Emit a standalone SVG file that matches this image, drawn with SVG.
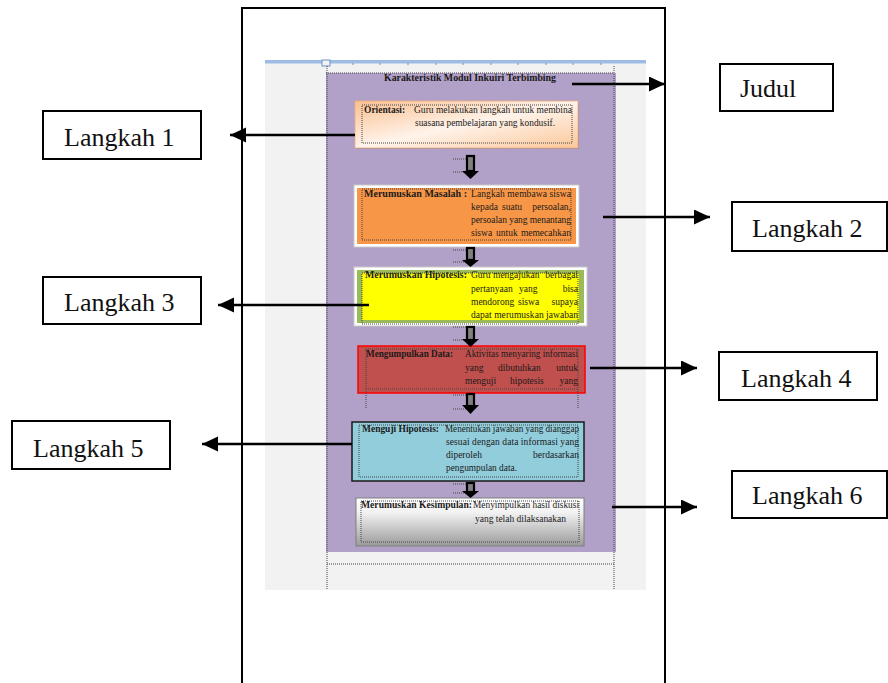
<svg xmlns="http://www.w3.org/2000/svg" width="888" height="683" viewBox="0 0 888 683">
<style>
.lbl{fill:#fff;stroke:#000;stroke-width:2}
.lt{font-family:"Liberation Serif","Times New Roman",serif;font-size:26px;fill:#111}
.t{font-family:"Liberation Serif","Times New Roman",serif;font-size:9.5px;fill:#1a1a1a}
.b{font-weight:bold}
.e{text-anchor:end}
.dot{fill:none;stroke:#444;stroke-width:1;stroke-dasharray:1 1}
.con{stroke:#000;stroke-width:2.5;fill:none;marker-end:url(#ah)}
.frame{stroke:#000;stroke-width:2;fill:none}
.shaft{fill:#808080;stroke:#000;stroke-width:2.2}
.head{fill:#000}
.tick{stroke:#888;stroke-width:1}
</style>
<defs>
<marker id="ah" markerUnits="userSpaceOnUse" markerWidth="17" markerHeight="16" refX="16" refY="7.5" orient="auto">
<path d="M0,0 L16,7.5 L0,15 z" fill="#000"/>
</marker>
<linearGradient id="g1" x1="0" y1="0" x2="1" y2="1">
<stop offset="0" stop-color="#fac090"/>
<stop offset="0.5" stop-color="#fff3ea"/>
<stop offset="1" stop-color="#fbc799"/>
</linearGradient>
<linearGradient id="g6" x1="0" y1="0" x2="0" y2="1">
<stop offset="0" stop-color="#ffffff"/>
<stop offset="0.3" stop-color="#f2f2f2"/>
<stop offset="1" stop-color="#9a9a9a"/>
</linearGradient>
</defs>
<rect width="888" height="683" fill="#fff"/>
<g id="frame">
<path class="frame" d="M242,683 V8 H665 V683"/>
</g>
<g id="screen">
<rect x="265" y="60" width="381" height="530" fill="#f2f2f2"/>
<rect x="265" y="60" width="381" height="3.5" fill="#9dbbe3"/>
<rect x="322" y="60" width="8" height="6" fill="#f2f2f2" stroke="#6d8fc4" stroke-width="1"/>
<g class="tick">
<line x1="353" y1="63" x2="353" y2="65"/><line x1="380" y1="63" x2="380" y2="65"/><line x1="408" y1="63" x2="408" y2="65"/><line x1="436" y1="63" x2="436" y2="65"/><line x1="463" y1="63" x2="463" y2="65"/><line x1="491" y1="63" x2="491" y2="65"/><line x1="518" y1="63" x2="518" y2="65"/><line x1="546" y1="63" x2="546" y2="65"/><line x1="573" y1="63" x2="573" y2="65"/><line x1="601" y1="63" x2="601" y2="65"/>
</g>
<rect x="326" y="73" width="290" height="479" fill="#b1a0c7"/>
<path class="dot" d="M326,73 H614 M327,66 V590 M614,66 V590 M327,564 H614"/>
<text class="t b" x="384" y="81" textLength="172" lengthAdjust="spacingAndGlyphs">Karakteristik Modul Inkuiri Terbimbing</text>
</g>
<g id="step1">
<rect x="356" y="102" width="223" height="47" fill="#000" opacity="0.15"/>
<rect x="355" y="101" width="223" height="47" fill="url(#g1)" stroke="#f0b080" stroke-width="0.8"/>
<rect class="dot" x="362" y="105" width="210" height="38"/>
<text class="t b" x="364" y="113">Orientasi:</text>
<text class="t" x="414" y="113" textLength="158" lengthAdjust="spacingAndGlyphs">Guru melakukan langkah untuk membina</text>
<text class="t" x="415" y="126" textLength="140" lengthAdjust="spacingAndGlyphs">suasana pembelajaran yang kondusif.</text>
</g>
<g id="step2">
<rect x="354" y="185" width="225" height="62" fill="#fff" stroke="#c8c8c8" stroke-width="1"/>
<rect x="357" y="188" width="219" height="56" fill="#f79646"/>
<rect class="dot" x="362" y="189" width="209" height="51"/>
<text class="t b" x="364" y="197" textLength="103" lengthAdjust="spacingAndGlyphs">Merumuskan Masalah :</text>
<text class="t" x="471" y="197" textLength="100" lengthAdjust="spacing">Langkah membawa siswa</text>
<text class="t" y="210"><tspan x="471">kepada</tspan><tspan x="502">suatu</tspan><tspan class="e" x="571">persoalan,</tspan></text>
<text class="t" x="471" y="223" textLength="100" lengthAdjust="spacing">persoalan yang menantang</text>
<text class="t" y="236"><tspan x="471">siswa</tspan><tspan x="496">untuk</tspan><tspan class="e" x="571">memecahkan</tspan></text>
</g>
<g id="step3">
<rect x="354" y="267" width="233" height="59" fill="#fff" stroke="#c8c8c8" stroke-width="1"/>
<rect x="357" y="270" width="227" height="53" fill="#9bbb59"/>
<rect x="362" y="273" width="217" height="47" fill="#ffff00"/>
<rect class="dot" x="362" y="273" width="216" height="51"/>
<text class="t b" x="365" y="278" textLength="102" lengthAdjust="spacingAndGlyphs">Merumuskan Hipotesis:</text>
<text class="t" y="278"><tspan x="471">Guru</tspan><tspan x="493">mengajukan</tspan><tspan class="e" x="578">berbagai</tspan></text>
<text class="t" y="292"><tspan x="471">pertanyaan</tspan><tspan x="519">yang</tspan><tspan class="e" x="578">bisa</tspan></text>
<text class="t" y="305"><tspan x="471">mendorong</tspan><tspan x="518">siswa</tspan><tspan class="e" x="578">supaya</tspan></text>
<text class="t" x="471" y="318" textLength="107" lengthAdjust="spacing">dapat merumuskan jawaban</text>
</g>
<g id="step4">
<rect x="358" y="346" width="227" height="47" fill="#c0504d" stroke="#ff0000" stroke-width="1.5"/>
<path class="dot" d="M366,349 H578 M366,389 H578 M366,349 V409 M578,349 V409"/>
<text class="t b" x="366" y="357" textLength="87" lengthAdjust="spacingAndGlyphs">Mengumpulkan Data:</text>
<text class="t" x="465" y="357" textLength="113" lengthAdjust="spacingAndGlyphs">Aktivitas menyaring informasi</text>
<text class="t" y="371"><tspan x="465">yang</tspan><tspan x="498">dibutuhkan</tspan><tspan class="e" x="578">untuk</tspan></text>
<text class="t" y="384"><tspan x="465">menguji</tspan><tspan x="510">hipotesis</tspan><tspan class="e" x="578">yang</tspan></text>
</g>
<g id="step5">
<rect x="352" y="422" width="232" height="59" fill="#92cddc" stroke="#1a1a1a" stroke-width="1.5"/>
<rect class="dot" x="359" y="425" width="219" height="52"/>
<text class="t b" x="362" y="432" textLength="77" lengthAdjust="spacingAndGlyphs">Menguji Hipotesis:</text>
<text class="t" x="445" y="432" textLength="134" lengthAdjust="spacingAndGlyphs">Menentukan jawaban yang dianggap</text>
<text class="t" x="446" y="445" textLength="133" lengthAdjust="spacing">sesuai dengan data informasi yang</text>
<text class="t" y="458"><tspan x="446">diperoleh</tspan><tspan class="e" x="579">berdasarkan</tspan></text>
<text class="t" x="446" y="471" textLength="71" lengthAdjust="spacingAndGlyphs">pengumpulan data.</text>
</g>
<g id="step6">
<rect x="356" y="498" width="228" height="48" fill="url(#g6)" stroke="#7f7f7f" stroke-width="1"/>
<rect class="dot" x="361" y="501" width="218" height="41"/>
<text class="t b" x="361" y="508" textLength="111" lengthAdjust="spacingAndGlyphs">Merumuskan Kesimpulan:</text>
<text class="t" x="473" y="508" textLength="106" lengthAdjust="spacingAndGlyphs">Menyimpulkan hasil diskusi</text>
<text class="t" x="475" y="522" textLength="91" lengthAdjust="spacingAndGlyphs">yang telah dilaksanakan</text>
</g>
<g id="flow-arrows">
<path class="dot" d="M453,159 H466 M453,172 H466"/>
<rect class="shaft" x="467" y="156" width="7" height="15"/>
<path class="head" d="M462,171 H479 L470.5,179 z"/>
<path class="dot" d="M453,250 H466 M453,262 H466"/>
<rect class="shaft" x="467" y="248" width="7" height="12"/>
<path class="head" d="M462,260 H479 L470.5,267 z"/>
<path class="dot" d="M453,327 H466 M453,340 H466"/>
<rect class="shaft" x="467" y="327" width="7" height="13"/>
<path class="head" d="M462,339 H479 L470.5,347 z"/>
<path class="dot" d="M453,395 H466 M453,409 H466"/>
<rect class="shaft" x="467" y="394" width="7" height="12"/>
<path class="head" d="M462,405 H479 L470.5,414 z"/>
<path class="dot" d="M453,484 H466 M453,493 H466"/>
<rect class="shaft" x="467" y="483" width="7" height="9"/>
<path class="head" d="M462,491 H479 L470.5,498 z"/>
</g>
<g id="connectors">
<line class="con" x1="572" y1="84" x2="665" y2="84"/>
<line class="con" x1="355" y1="135" x2="230" y2="135"/>
<line class="con" x1="603" y1="217" x2="710" y2="217"/>
<line class="con" x1="369" y1="305" x2="218" y2="305"/>
<line class="con" x1="590" y1="368" x2="697" y2="368"/>
<line class="con" x1="352" y1="444" x2="202" y2="444"/>
<line class="con" x1="612" y1="507" x2="697" y2="507"/>
</g>
<g id="label-judul"><rect class="lbl" x="720" y="64" width="113" height="47"/><text class="lt" x="740" y="97">Judul</text></g>
<g id="label-langkah1"><rect class="lbl" x="43" y="111" width="158" height="48"/><text class="lt" x="64" y="146">Langkah 1</text></g>
<g id="label-langkah2"><rect class="lbl" x="732" y="202" width="155" height="49"/><text class="lt" x="752" y="237">Langkah 2</text></g>
<g id="label-langkah3"><rect class="lbl" x="43" y="277" width="158" height="47"/><text class="lt" x="64" y="311">Langkah 3</text></g>
<g id="label-langkah4"><rect class="lbl" x="719" y="352" width="158" height="48"/><text class="lt" x="741" y="387">Langkah 4</text></g>
<g id="label-langkah5"><rect class="lbl" x="12" y="421" width="158" height="48"/><text class="lt" x="33" y="457">Langkah 5</text></g>
<g id="label-langkah6"><rect class="lbl" x="732" y="471" width="155" height="47"/><text class="lt" x="752" y="504">Langkah 6</text></g>
</svg>
